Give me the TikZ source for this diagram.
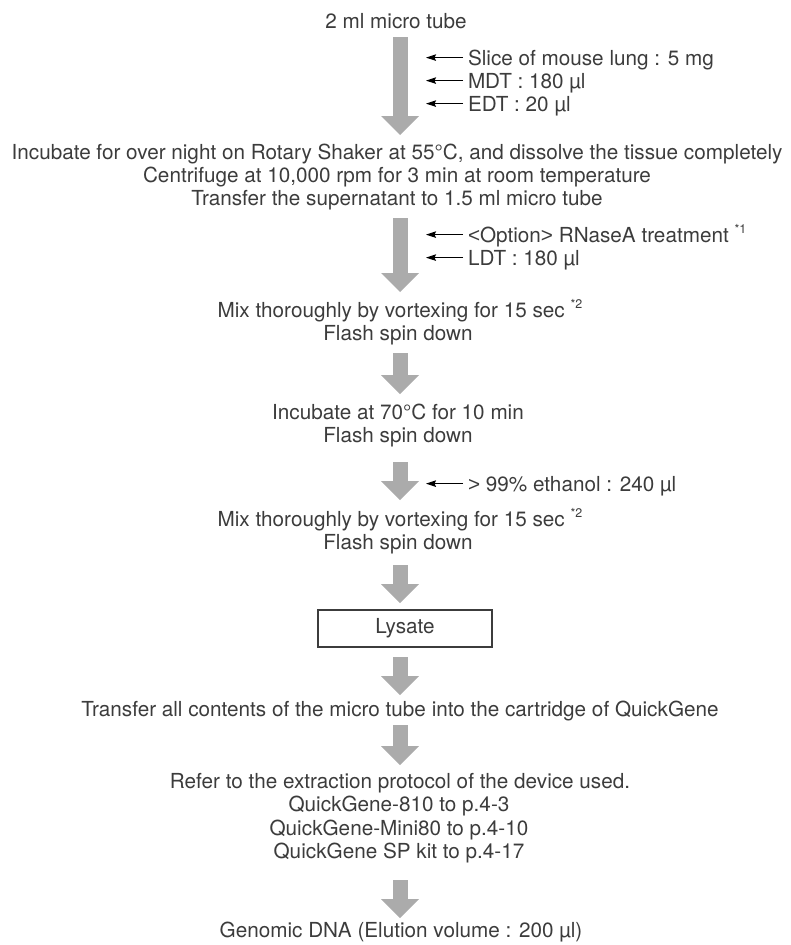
\documentclass[tikz,border=0pt]{standalone}
\usepackage{fontspec}
\setmainfont{TeX Gyre Heros}
\newfontfamily\relfont{Liberation Sans}
\usetikzlibrary{arrows.meta}
\definecolor{ink}{HTML}{3C3C3C}
\definecolor{flowgray}{HTML}{ABABAB}
% footnote marker set as a small raised "*n"
\newcommand\stepnote[1]{\raisebox{0.42em}{\fontsize{12.5}{12.5}\selectfont *#1}}
% wide relation signs
\newcommand\lsign{{\relfont <}}
\newcommand\gsign{{\relfont >}}
\begin{document}
\begin{tikzpicture}[x=1pt,y=-1pt,
  every node/.style={inner sep=0pt, outer sep=0pt, text=ink,
    font=\fontsize{20.7}{23}\selectfont},
  line/.style={anchor=base},
  side/.style={anchor=base west},
  flow/.style={draw=flowgray, line width=15pt,
    -{Triangle[width=38pt,length=19pt,line width=0pt]}},
  add/.style={draw=black, line width=1.2pt,
    -{Stealth[length=10pt,width=6.5pt,inset=1.5pt]}},
  box/.style={draw=ink, line width=1.1pt, minimum width=174pt, minimum height=37pt}
]
\useasboundingbox (0,0) rectangle (791,945);

% ---- step 1: tube and additions
\node[line] (tube) at (396,28) {2 ml micro tube};
\coordinate (f1s) at (400,37);
\coordinate (f1e) at (400,135);
\draw[flow] (f1s) -- (f1e);
\node[side] (slice) at (468,65) {Slice of mouse lung : 5 mg};
\node[side] (mdt) at (468,88) {MDT : 180 µl};
\node[side] (edt) at (468,111) {EDT : 20 µl};
\foreach \n in {slice,mdt,edt}
  \draw[add] ([shift={(-5pt,7.4pt)}]\n.base west) -- ++(-37,0);

% ---- incubation and transfer
\node[line] (inc) at (397,159) {Incubate for over night on Rotary Shaker at 55°C, and dissolve the tissue completely};
\node[line] (cent) at (397,182) {Centrifuge at 10,000 rpm for 3 min at room temperature};
\node[line] (sup) at (397,205) {Transfer the supernatant to 1.5 ml micro tube};
\coordinate (f2s) at (400,218);
\coordinate (f2e) at (400,292);
\draw[flow] (f2s) -- (f2e);
\node[side] (rnase) at (468,242) {\lsign Option\gsign{} RNaseA treatment \stepnote{1}};
\node[side] (ldt) at (468,265) {LDT : 180 µl};
\foreach \n in {rnase,ldt}
  \draw[add] ([shift={(-5pt,7.4pt)}]\n.base west) -- ++(-37,0);

% ---- mixing and heating
\node[line] (mixa) at (400,317) {Mix thoroughly by vortexing for 15 sec \stepnote{2}};
\node[line] (spina) at (398,340) {Flash spin down};
\coordinate (f3s) at (400,353);
\coordinate (f3e) at (400,394);
\draw[flow] (f3s) -- (f3e);
\node[line] (heat) at (398,419) {Incubate at 70°C for 10 min};
\node[line] (spinb) at (398,442) {Flash spin down};
\coordinate (f4s) at (400,462);
\coordinate (f4e) at (400,500);
\draw[flow] (f4s) -- (f4e);
\node[side] (etoh) at (468,491) {\gsign{} 99\% ethanol : 240 µl};
\draw[add] ([shift={(-5pt,7.4pt)}]etoh.base west) -- ++(-37,0);
\node[line] (mixb) at (400,526) {Mix thoroughly by vortexing for 15 sec \stepnote{2}};
\node[line] (spinc) at (398,549) {Flash spin down};
\coordinate (f5s) at (400,565);
\coordinate (f5e) at (400,603);
\draw[flow] (f5s) -- (f5e);

% ---- lysate and extraction
\node[box] (lys) at (405,628.5) {Lysate};
\coordinate (f6s) at (400,657);
\coordinate (f6e) at (400,695);
\draw[flow] (f6s) -- (f6e);
\node[line] (load) at (400,716) {Transfer all contents of the micro tube into the cartridge of QuickGene};
\coordinate (f7s) at (400,725);
\coordinate (f7e) at (400,765);
\draw[flow] (f7s) -- (f7e);
\node[line] (refer) at (400,788) {Refer to the extraction protocol of the device used.};
\node[line] (qga) at (399,811.5) {QuickGene-810 to p.4-3};
\node[line] (qgb) at (399,835) {QuickGene-Mini80 to p.4-10};
\node[line] (qgc) at (399,858.5) {QuickGene SP kit to p.4-17};
\coordinate (f8s) at (400,880);
\coordinate (f8e) at (400,918);
\draw[flow] (f8s) -- (f8e);
\node[line] (dna) at (401,937) {Genomic DNA (Elution volume : 200 µl)};
\end{tikzpicture}
\end{document}
